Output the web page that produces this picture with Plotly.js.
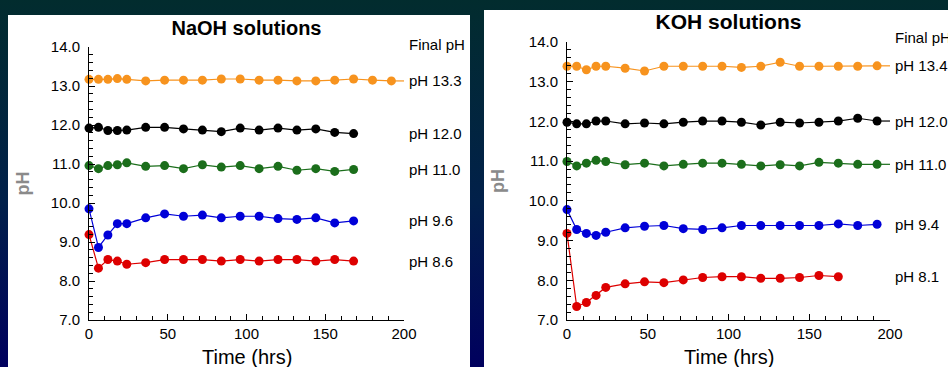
<!DOCTYPE html>
<html><head><meta charset="utf-8">
<script src="https://cdn.plot.ly/plotly-3.0.1.min.js"></script>
<style>
html,body{margin:0;padding:0;width:948px;height:367px;overflow:hidden;
background:linear-gradient(to bottom,#022c2e 0%,#01204a 55%,#00005e 100%);}
#naoh{position:absolute;left:8px;top:15px;width:462px;height:352px;background:#fff;}
#koh{position:absolute;left:484px;top:10px;width:464px;height:357px;background:#fff;}
</style></head><body>
<div id="naoh"></div><div id="koh"></div>
<script>
// ---- data ----
const timeHrs = [0,6,12,18,24,36,48,60,72,84,96,108,120,132,144,156,168,180,192];

const naohTitle = 'NaOH solutions';
const naohLabels = ['pH 13.3','pH 12.0','pH 11.0','pH 9.6','pH 8.6'];
const naoh133 = [13.17,13.17,13.17,13.19,13.17,13.13,13.15,13.15,13.15,13.18,13.18,13.15,13.15,13.13,13.13,13.15,13.18,13.15,13.13];
const naoh120 = [11.92,11.94,11.86,11.86,11.87,11.94,11.94,11.90,11.87,11.83,11.92,11.87,11.92,11.87,11.90,11.81,11.78];
const naoh110 = [10.96,10.88,10.96,10.98,11.03,10.94,10.96,10.88,10.98,10.92,10.96,10.88,10.94,10.84,10.88,10.81,10.86];
const naoh96  = [9.85,8.86,9.18,9.47,9.47,9.62,9.72,9.66,9.69,9.62,9.66,9.66,9.60,9.58,9.62,9.49,9.54];
const naoh86  = [9.19,8.33,8.55,8.51,8.43,8.47,8.55,8.55,8.55,8.51,8.55,8.51,8.55,8.55,8.51,8.55,8.51];

const kohTitle = 'KOH solutions';
const kohLabels = ['pH 13.4','pH 12.0','pH 11.0','pH 9.4','pH 8.1'];
const koh134 = [13.39,13.39,13.30,13.39,13.39,13.34,13.27,13.39,13.39,13.39,13.39,13.36,13.39,13.49,13.39,13.39,13.39,13.39,13.40];
const koh120 = [11.98,11.94,11.94,12.01,12.01,11.94,11.96,11.94,11.98,12.01,12.01,11.98,11.91,11.98,11.96,11.98,12.01,12.08,12.01];
const koh110 = [10.99,10.88,10.95,11.02,10.99,10.91,10.95,10.88,10.92,10.95,10.95,10.92,10.88,10.91,10.88,10.97,10.95,10.92,10.92];
const koh94  = [9.78,9.28,9.18,9.13,9.21,9.32,9.36,9.38,9.30,9.28,9.32,9.38,9.38,9.38,9.38,9.38,9.42,9.38,9.41];
const koh81  = [9.18,7.34,7.44,7.62,7.82,7.91,7.96,7.94,8.01,8.07,8.09,8.09,8.05,8.05,8.07,8.12,8.09];

const xTitle = 'Time (hrs)';
const yTitle = 'pH';
const finalLabel = 'Final pH';
// which series have a leader line running to the label
const naohLeader = [true,false,false,false,false];
const kohLeader  = [true,true,true,false,false];

// ---- styles ----
const colors = ['#f7931e','#000000','#1b6e1b','#0000d8','#dd0000'];
const FONT = 'Liberation Sans, Arial, sans-serif';

function makePanel(divId, title, series, labels, leaders, opt){
  const traces = series.map((vals,i)=>({
    type:'scatter', mode:'lines+markers',
    x: timeHrs.slice(0, vals.length), y: vals,
    line:{color:colors[i], width:1.2},
    marker:{color:colors[i], size:9},
    cliponaxis:false, hoverinfo:'skip'
  }));
  const annotations = [];
  series.forEach((vals,i)=>{
    annotations.push({xref:'paper', x:1, xshift:3, xanchor:'left',
      yref:'y', y: vals[vals.length-1], yanchor:'middle',
      text: labels[i], showarrow:false, font:{family:FONT, size:15, color:'#000'}});
  });
  annotations.push({xref:'paper', x:1, xshift:3, xanchor:'left', yref:'paper', y:1, yshift:opt.finalShift, yanchor:'middle',
    text: finalLabel, showarrow:false, font:{family:FONT, size:15, color:'#000'}});
  annotations.push({xref:'paper', x:0.5, xanchor:'center', yref:'paper', y:0, yshift:-37, yanchor:'middle',
    text: xTitle, showarrow:false, font:{family:FONT, size:20, color:'#000'}});
  annotations.push({xref:'paper', x:0, xshift:opt.yTitleShift, xanchor:'center', yref:'paper', y:0.5, yanchor:'middle',
    text: yTitle, textangle:-90, showarrow:false, font:{family:FONT, size:18, color:'#8a8a8a', weight:'bold'}});
  const shapes = [];
  series.forEach((vals,i)=>{
    if(leaders[i]){
      const lt = timeHrs[vals.length-1], lv = vals[vals.length-1];
      shapes.push({type:'line', xref:'x', yref:'y', x0:lt, x1:200, y0:lv, y1:lv,
        line:{color:colors[i], width:1.2}, layer:'below'});
    }
  });
  const layout = {
    width: opt.w, height: opt.h,
    margin: opt.m,
    paper_bgcolor:'#ffffff', plot_bgcolor:'#ffffff',
    showlegend:false,
    title:{text:title, font:{family:FONT, size:opt.titleSize, color:'#000', weight:'bold'},
      xref:'paper', x:0.5, xanchor:'center', yref:'container', y:1-opt.titleY/opt.h, yanchor:'middle'},
    xaxis:{range:[0,200], tick0:0, dtick:50, ticks:'inside', ticklen:6, tickwidth:1, tickcolor:'#000',
      showline:true, linecolor:'#000', linewidth:1, showgrid:false, zeroline:false,
      tickfont:{family:FONT, size:15, color:'#000'},
      minor:{dtick:10, ticks:'inside', ticklen:4, tickcolor:'#000', tickwidth:1, showgrid:false}},
    yaxis:{range:[7,14], tick0:7, dtick:1, tickformat:'.1f', ticks:'inside', ticklen:6, tickwidth:1, tickcolor:'#000',
      showline:true, linecolor:'#000', linewidth:1, showgrid:false, zeroline:false,
      ticklabelstandoff:5,
      tickfont:{family:FONT, size:15, color:'#000'},
      minor:{dtick:0.2, ticks:'inside', ticklen:4, tickcolor:'#000', tickwidth:1, showgrid:false}},
    annotations, shapes
  };
  Plotly.newPlot(divId, traces, layout, {staticPlot:true, displayModeBar:false});
}

makePanel('naoh', naohTitle, [naoh133,naoh120,naoh110,naoh96,naoh86], naohLabels, naohLeader,
  {w:462, h:352, m:{l:81, r:66, t:32, b:47}, titleY:13, titleSize:20, finalShift:3, yTitleShift:-67});
makePanel('koh', kohTitle, [koh134,koh120,koh110,koh94,koh81], kohLabels, kohLeader,
  {w:464, h:357, m:{l:83, r:58, t:32, b:47}, titleY:12, titleSize:21, finalShift:5, yTitleShift:-69});
</script>
</body></html>
